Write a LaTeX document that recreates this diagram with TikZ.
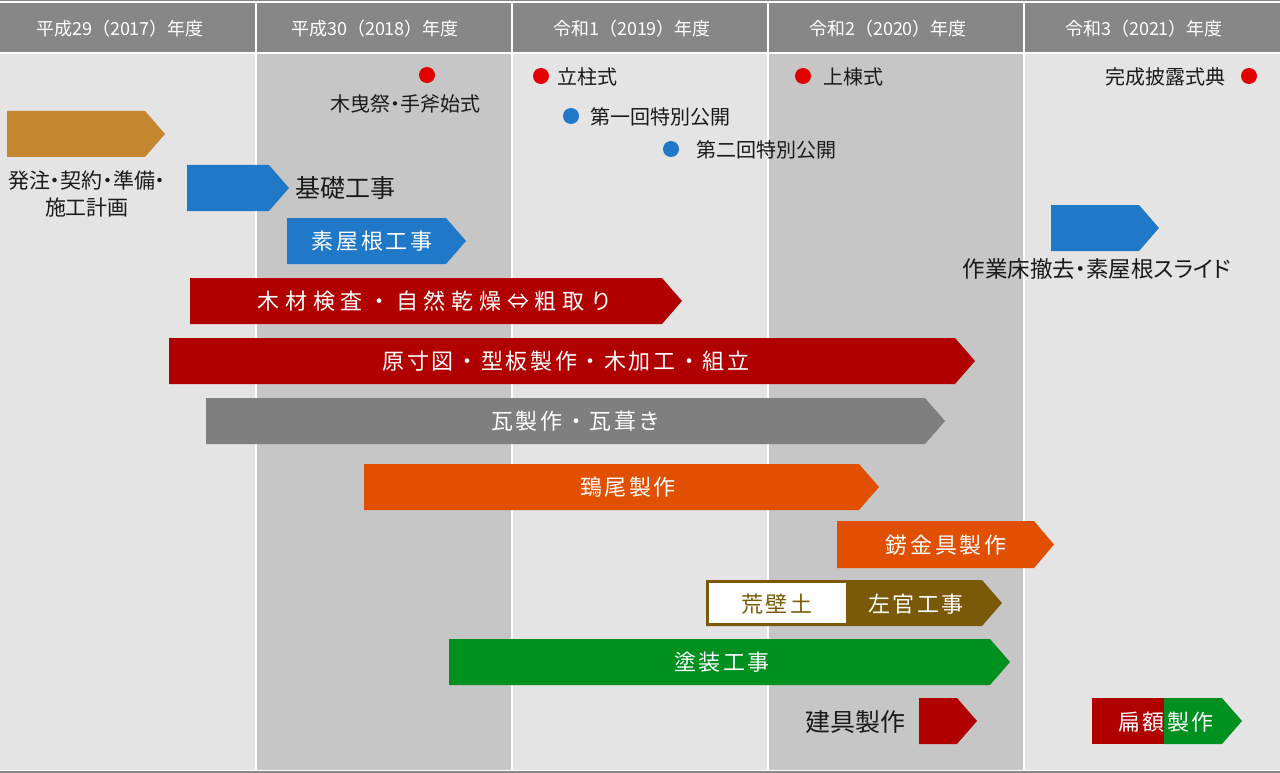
\documentclass[tikz,border=0pt]{standalone}
\usepackage{fontspec}
\setmainfont{Noto Sans CJK JP}
\newfontfamily\jpp{Noto Sans CJK JP}[RawFeature=+palt]
\newfontfamily\jps{Noto Sans CJK JP}[LetterSpace=12]
\newfontfamily\jpw{Noto Sans CJK JP}[LetterSpace=26]
\definecolor{hdr}{HTML}{878787}
\definecolor{lightcol}{HTML}{E4E4E4}
\definecolor{darkcol}{HTML}{C6C6C6}
\definecolor{cgold}{HTML}{C4862E}
\definecolor{cblue}{HTML}{1F78C8}
\definecolor{cred}{HTML}{B00000}
\definecolor{cgray}{HTML}{7F7F7F}
\definecolor{corange}{HTML}{E05000}
\definecolor{cbrown}{HTML}{7A5A08}
\definecolor{cgreen}{HTML}{009020}
\definecolor{evred}{HTML}{E00000}
\definecolor{txt}{HTML}{1A1A1A}
\newcommand\gbar[5]{\fill[#5] (#1,#2) -- ({#3-20},#2) -- (#3,{(#2+#4)/2}) -- ({#3-20},#4) -- (#1,#4) -- cycle;}
\tikzset{
  hdrtext/.style={text=white,font=\fontsize{18}{20}\selectfont,inner sep=0pt},
  bartext/.style={text=white,font=\jps\fontsize{22}{24}\selectfont,inner sep=0pt},
  lbl/.style={text=txt,font=\jpp\fontsize{20}{26}\selectfont,inner sep=0pt},
  biglbl/.style={text=txt,font=\jpp\fontsize{25}{28}\selectfont,inner sep=0pt},
  evdot/.style={circle,inner sep=0pt,minimum size=16pt}
}
\begin{document}
\begin{tikzpicture}[x=1pt,y=-1pt]
\useasboundingbox (0,0) rectangle (1280,773);
\fill[white] (0,0) rectangle (1280,773);
\fill[hdr] (0,0) rectangle (1280,1.5);
\fill[hdr] (0,3) rectangle (1280,52);
\foreach \i in {0,2,4} \fill[lightcol] (\i*256,54) rectangle (\i*256+256,770);
\foreach \i in {1,3} \fill[darkcol] (\i*256,54) rectangle (\i*256+256,770);
\foreach \x in {256,512,768,1024} \fill[white] (\x-1,3) rectangle (\x+1,770);
\fill[hdr] (0,771) rectangle (1280,773);
% header
\node[hdrtext] (h1) at (120,29) {平成29（2017）年度};
\node[hdrtext] (h2) at (375,29) {平成30（2018）年度};
\node[hdrtext] (h3) at (632,29) {令和1（2019）年度};
\node[hdrtext] (h4) at (888,29) {令和2（2020）年度};
\node[hdrtext] (h5) at (1144,29) {令和3（2021）年度};
% events
\node[evdot,fill=evred] (e1) at (427,75) {};
\node[lbl] (e1t) at (405,104) {木曳祭・手斧始式};
\node[evdot,fill=evred] (e2) at (541,76) {};
\node[lbl,anchor=west] (e2t) at (557,77) {立柱式};
\node[evdot,fill=cblue] (e3) at (571,116) {};
\node[lbl,anchor=west] (e3t) at (590,117) {第一回特別公開};
\node[evdot,fill=cblue] (e4) at (671,149) {};
\node[lbl,anchor=west] (e4t) at (696,150) {第二回特別公開};
\node[evdot,fill=evred] (e5) at (803,76) {};
\node[lbl,anchor=west] (e5t) at (823,77) {上棟式};
\node[evdot,fill=evred] (e6) at (1249,76) {};
\node[lbl,anchor=east] (e6t) at (1226,77) {完成披露式典};
% bars
\gbar{7}{111}{165}{157}{cgold}
\node[lbl,font=\jpp\fontsize{21}{27}\selectfont,align=center] (b1t) at (87,194) {発注・契約・準備・\\施工計画};
\gbar{187}{165}{289}{211}{cblue}
\node[biglbl,anchor=west] (b2t) at (295,188) {基礎工事};
\gbar{287}{218}{466}{264}{cblue}
\node[bartext] (b3t) at (372,241) {素屋根工事};
\gbar{1051}{205}{1159}{251}{cblue}
\node[lbl,font=\jpp\fontsize{22.5}{26}\selectfont] (b4t) at (1097,269) {作業床撤去・素屋根スライド};
\gbar{190}{278}{682}{324}{cred}
\node[bartext,font=\jpw\fontsize{22}{24}\selectfont] (b5t) at (435,301) {木材検査・自然乾燥⇔粗取り};
\gbar{169}{338}{975}{384}{cred}
\node[bartext] (b6t) at (566,361) {原寸図・型板製作・木加工・組立};
\gbar{206}{398}{945}{444}{cgray}
\node[bartext] (b7t) at (576,421) {瓦製作・瓦葺き};
\gbar{364}{464}{879}{510}{corange}
\node[bartext] (b8t) at (628,487) {鵄尾製作};
\gbar{837}{521}{1054}{568}{corange}
\node[bartext] (b9t) at (946,545) {錺金具製作};
\gbar{706}{580}{1002}{626}{cbrown}
\fill[white] (709,583) rectangle (846,623);
\node[bartext,text=cbrown] (b10a) at (777,604) {荒壁土};
\node[bartext] (b10b) at (916,604) {左官工事};
\gbar{449}{639}{1010}{685}{cgreen}
\node[bartext] (b11t) at (722,662) {塗装工事};
\gbar{919}{698}{977}{744}{cred}
\node[biglbl,anchor=east] (b12t) at (906,722) {建具製作};
\fill[cred] (1092,698) rectangle (1165,744);
\gbar{1164}{698}{1242}{744}{cgreen}
\node[bartext] (b13t) at (1166,722) {扁額製作};
\end{tikzpicture}
\end{document}
